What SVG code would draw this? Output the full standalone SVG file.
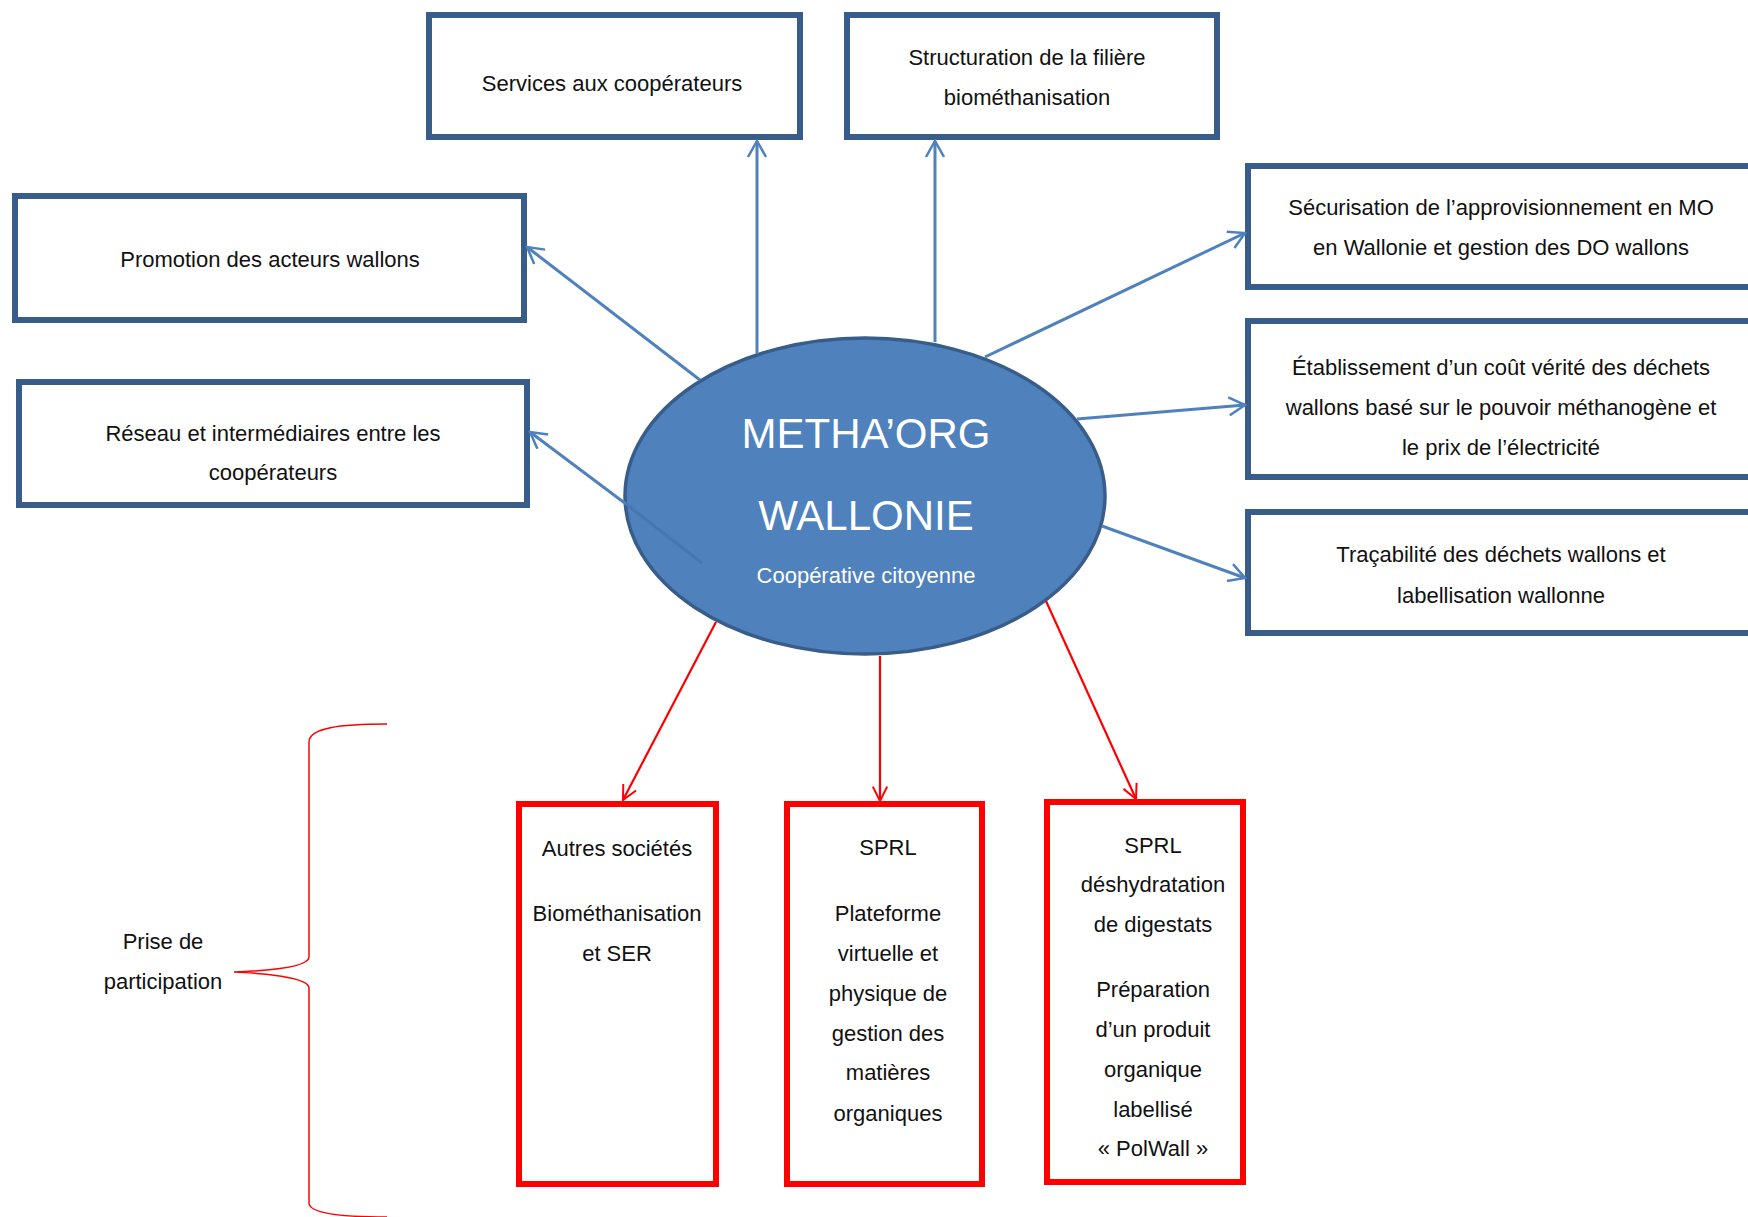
<svg xmlns="http://www.w3.org/2000/svg" width="1748" height="1217" viewBox="0 0 1748 1217">
<style>
.bbox{fill:#fff;stroke:#385D8A;stroke-width:6}
.rbox{fill:#fff;stroke:#FF0000;stroke-width:6}
.t{font-family:"Liberation Sans",Arial,sans-serif;font-size:22px;fill:#111;text-anchor:middle}
.title{font-family:"Liberation Sans",Arial,sans-serif;font-size:42px;fill:#fff;text-anchor:middle}
.sub{font-family:"Liberation Sans",Arial,sans-serif;font-size:22px;fill:#fff;text-anchor:middle}
.ba{stroke:#4F81BD;stroke-width:3;fill:none;marker-end:url(#ab)}
.ra{stroke:#FF0000;stroke-width:2.2;fill:none;marker-end:url(#ar)}
</style>
<defs>
<marker id="ab" viewBox="0 0 20 20" refX="18" refY="10" markerWidth="20" markerHeight="20" markerUnits="userSpaceOnUse" orient="auto">
<path d="M2,1 L18,10 L2,19" fill="none" stroke="#4F81BD" stroke-width="2.5"/>
</marker>
<marker id="ar" viewBox="0 0 20 20" refX="18" refY="10" markerWidth="18" markerHeight="18" markerUnits="userSpaceOnUse" orient="auto">
<path d="M2,2 L18,10 L2,18" fill="none" stroke="#FF0000" stroke-width="2.2"/>
</marker>
</defs>
<rect width="1748" height="1217" fill="#fff"/>

<g id="services">
<rect class="bbox" x="429" y="15" width="371" height="122"/>
<text class="t" x="612" y="91">Services aux coopérateurs</text>
</g>
<g id="structuration">
<rect class="bbox" x="847" y="15" width="370" height="122"/>
<text class="t" x="1027" y="65">Structuration de la filière</text>
<text class="t" x="1027" y="105">biométhanisation</text>
</g>
<g id="promotion">
<rect class="bbox" x="15" y="196" width="509" height="124"/>
<text class="t" x="270" y="267">Promotion des acteurs wallons</text>
</g>
<g id="reseau">
<rect class="bbox" x="19" y="382" width="508" height="123"/>
<text class="t" x="273" y="441">Réseau et intermédiaires entre les</text>
<text class="t" x="273" y="480">coopérateurs</text>
</g>
<g id="securisation">
<rect class="bbox" x="1248" y="166" width="520" height="121"/>
<text class="t" x="1501" y="215">Sécurisation de l’approvisionnement en MO</text>
<text class="t" x="1501" y="255">en Wallonie et gestion des DO wallons</text>
</g>
<g id="etablissement">
<rect class="bbox" x="1248" y="321" width="520" height="156"/>
<text class="t" x="1501" y="375">Établissement d’un coût vérité des déchets</text>
<text class="t" x="1501" y="415">wallons basé sur le pouvoir méthanogène et</text>
<text class="t" x="1501" y="455">le prix de l’électricité</text>
</g>
<g id="tracabilite">
<rect class="bbox" x="1248" y="512" width="520" height="121"/>
<text class="t" x="1501" y="562">Traçabilité des déchets wallons et</text>
<text class="t" x="1501" y="603">labellisation wallonne</text>
</g>

<g id="metha">
<ellipse cx="865" cy="496" rx="240" ry="158" fill="#4F81BD" stroke="#385D8A" stroke-width="3.5"/>
<text class="title" x="866" y="448">METHA’ORG</text>
<text class="title" x="866" y="530">WALLONIE</text>
<text class="sub" x="866" y="583">Coopérative citoyenne</text>
</g>

<g id="autres">
<rect class="rbox" x="519" y="804" width="197" height="380"/>
<text class="t" x="617" y="856">Autres sociétés</text>
<text class="t" x="617" y="921">Biométhanisation</text>
<text class="t" x="617" y="961">et SER</text>
</g>
<g id="sprl-plateforme">
<rect class="rbox" x="787" y="804" width="195" height="380"/>
<text class="t" x="888" y="855">SPRL</text>
<text class="t" x="888" y="921">Plateforme</text>
<text class="t" x="888" y="961">virtuelle et</text>
<text class="t" x="888" y="1001">physique de</text>
<text class="t" x="888" y="1041">gestion des</text>
<text class="t" x="888" y="1080">matières</text>
<text class="t" x="888" y="1121">organiques</text>
</g>
<g id="sprl-deshydratation">
<rect class="rbox" x="1047" y="802" width="196" height="380"/>
<text class="t" x="1153" y="853">SPRL</text>
<text class="t" x="1153" y="892">déshydratation</text>
<text class="t" x="1153" y="932">de digestats</text>
<text class="t" x="1153" y="997">Préparation</text>
<text class="t" x="1153" y="1037">d’un produit</text>
<text class="t" x="1153" y="1077">organique</text>
<text class="t" x="1153" y="1117">labellisé</text>
<text class="t" x="1153" y="1156">« PolWall »</text>
</g>

<g id="prise">
<path d="M387,724 C340,724 309,728 309,742 L309,957 C309,968 260,971 234,972 C260,973 309,977 309,988 L309,1203 C309,1213 340,1217 387,1217" fill="none" stroke="#FF0000" stroke-width="1.5"/>
<text class="t" x="163" y="949">Prise de</text>
<text class="t" x="163" y="989">participation</text>
</g>

<g id="connectors">
<line class="ba" x1="757" y1="354" x2="757" y2="141"/>
<line class="ba" x1="935" y1="342" x2="935" y2="141"/>
<line class="ba" x1="700" y1="380" x2="527" y2="247"/>
<line x1="702" y1="563" x2="626" y2="504" stroke="#4677B3" stroke-width="3"/>
<line class="ba" x1="626" y1="504" x2="530" y2="432"/>
<line class="ba" x1="985" y1="357" x2="1245" y2="233"/>
<line class="ba" x1="1077" y1="419" x2="1245" y2="405"/>
<line class="ba" x1="1102" y1="526" x2="1245" y2="578"/>
<line class="ra" x1="716" y1="622" x2="623" y2="800"/>
<line class="ra" x1="880" y1="656" x2="880" y2="801"/>
<line class="ra" x1="1046" y1="601" x2="1136" y2="799"/>
</g>
</svg>
